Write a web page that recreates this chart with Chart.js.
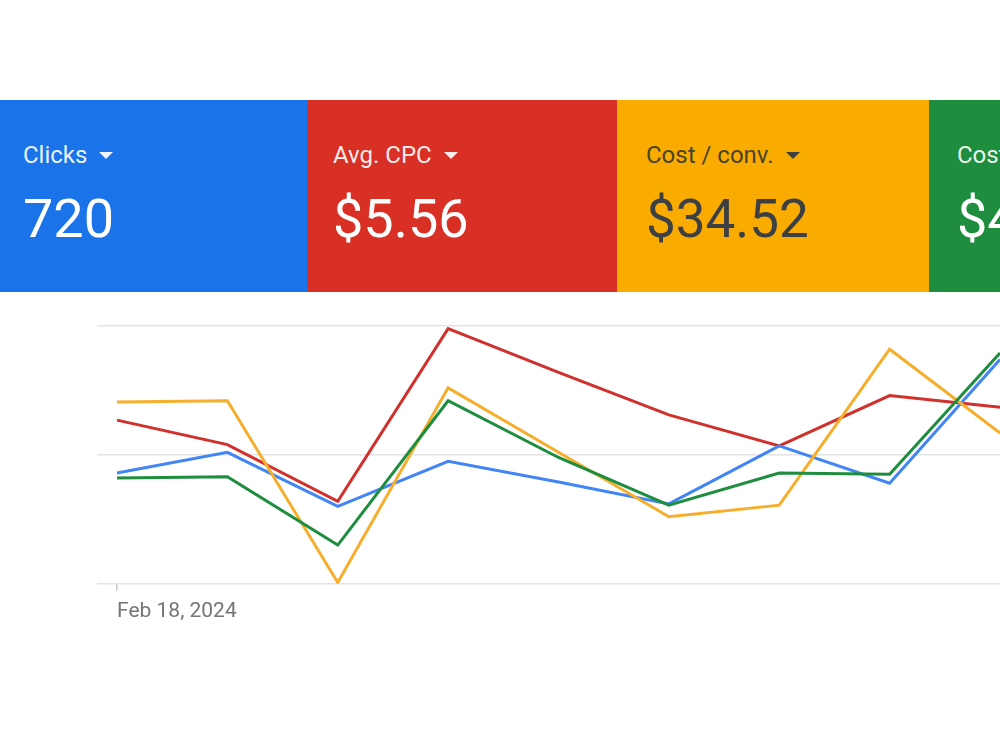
<!DOCTYPE html>
<html>
<head>
<meta charset="utf-8">
<script src="https://cdn.jsdelivr.net/npm/chart.js@4.4.1/dist/chart.umd.min.js"></script>
<style>
  html, body { margin: 0; padding: 0; background: #fff; }
  body { width: 1000px; height: 750px; overflow: hidden; position: relative; font-family: Roboto, Arial, sans-serif; }
  .card { position: absolute; top: 100px; height: 192px; overflow: hidden; box-sizing: border-box; padding-left: 26px; }
  .titulo { position: absolute; top: 43px; font-size: 24px; line-height: 24px; white-space: nowrap; }
  .valor { position: absolute; top: 92px; font-size: 54px; line-height: 54px; white-space: nowrap; }
  .seta { display: inline-block; width: 0; height: 0; border-left: 7px solid transparent; border-right: 7px solid transparent; border-top: 7px solid currentColor; margin-left: 12px; vertical-align: 4px; }
  .branco { color: #fff; }
  .branco .titulo { color: rgba(255,255,255,0.92); }
  .escuro .titulo { color: #4a4330; }
  .escuro .valor { color: #3c4043; }
  /* um pouco mais largo que a janela: o padding do eixo x fica fora da tela */
  #caixa { position: absolute; left: 0; top: 300px; width: 1008px; height: 340px; }
</style>
</head>
<body>
<div class="card branco" style="left:-3px;width:310px;background:#1a73e8;">
  <div class="titulo">Clicks<span class="seta"></span></div>
  <div class="valor">720</div>
</div>
<div class="card branco" style="left:307px;width:310px;background:#d93025;">
  <div class="titulo">Avg. CPC<span class="seta"></span></div>
  <div class="valor">$5.56</div>
</div>
<div class="card escuro" style="left:617px;width:312px;background:#f9ab00;padding-left:29px;">
  <div class="titulo">Cost / conv.<span class="seta" style="color:#3c4043"></span></div>
  <div class="valor" style="font-size:53px;">$34.52</div>
</div>
<div class="card branco" style="left:929px;width:200px;background:#1e8e3e;padding-left:28px;">
  <div class="titulo">Cost</div>
  <div class="valor">$4</div>
</div>
<div id="caixa"><canvas id="grafico"></canvas></div>
<script>
var datas = ['Feb 18, 2024', 'Feb 19, 2024', 'Feb 20, 2024', 'Feb 21, 2024', 'Feb 22, 2024',
             'Feb 23, 2024', 'Feb 24, 2024', 'Feb 25, 2024', 'Feb 26, 2024'];
var cliques   = [0.86, 1.02, 0.60, 0.95, 0.79, 0.62, 1.07, 0.78, 1.74];
var cpcMedio  = [1.27, 1.08, 0.64, 1.98, 1.64, 1.31, 1.07, 1.46, 1.37];
var custoConv = [1.41, 1.42, 0.01, 1.52, 1.02, 0.52, 0.61, 1.82, 1.17];
var custo     = [0.82, 0.83, 0.30, 1.42, 0.98, 0.61, 0.86, 0.85, 1.79];
var ticksY = [0, 1, 2];

function serie(nome, valores, cor) {
  return {
    label: nome,
    data: valores,
    borderColor: cor,
    backgroundColor: cor,
    borderWidth: 3,
    pointRadius: 0,
    pointHoverRadius: 0,
    tension: 0,
    fill: false
  };
}

var ctx = document.getElementById('grafico').getContext('2d');
var chart = new Chart(ctx, {
  type: 'line',
  data: {
    labels: datas,
    datasets: [
      serie('Cost', custo, '#1e8e3e'),
      serie('Cost / conv.', custoConv, '#f6ae2d'),
      serie('Clicks', cliques, '#4285f4'),
      serie('Avg. CPC', cpcMedio, '#d0312d')
    ]
  },
  options: {
    responsive: true,
    maintainAspectRatio: false,
    animation: false,
    layout: { padding: { left: 97, right: 0, top: 26, bottom: 8 } },
    plugins: { legend: { display: false }, tooltip: { enabled: false } },
    scales: {
      x: {
        border: { display: false },
        grid: {
          drawOnChartArea: false,
          drawTicks: true,
          tickLength: 7,
          lineWidth: 1.5,
          color: function(c) { return c.index === 0 ? '#c8c8c8' : 'rgba(0,0,0,0)'; }
        },
        ticks: {
          autoSkip: false,
          maxRotation: 0,
          align: 'start',
          padding: 8,
          color: '#757575',
          font: { family: 'Roboto', size: 21 },
          callback: function(v, i) { return i === 0 ? datas[0] : ''; }
        }
      },
      y: {
        min: ticksY[0],
        max: ticksY[ticksY.length - 1],
        border: { display: false },
        grid: { color: '#e3e3e3', lineWidth: 1.5, drawTicks: true, tickLength: 20 },
        afterBuildTicks: function(axis) { axis.ticks = ticksY.map(function(v) { return { value: v }; }); },
        ticks: { display: false }
      }
    }
  }
});
</script>
</body>
</html>
